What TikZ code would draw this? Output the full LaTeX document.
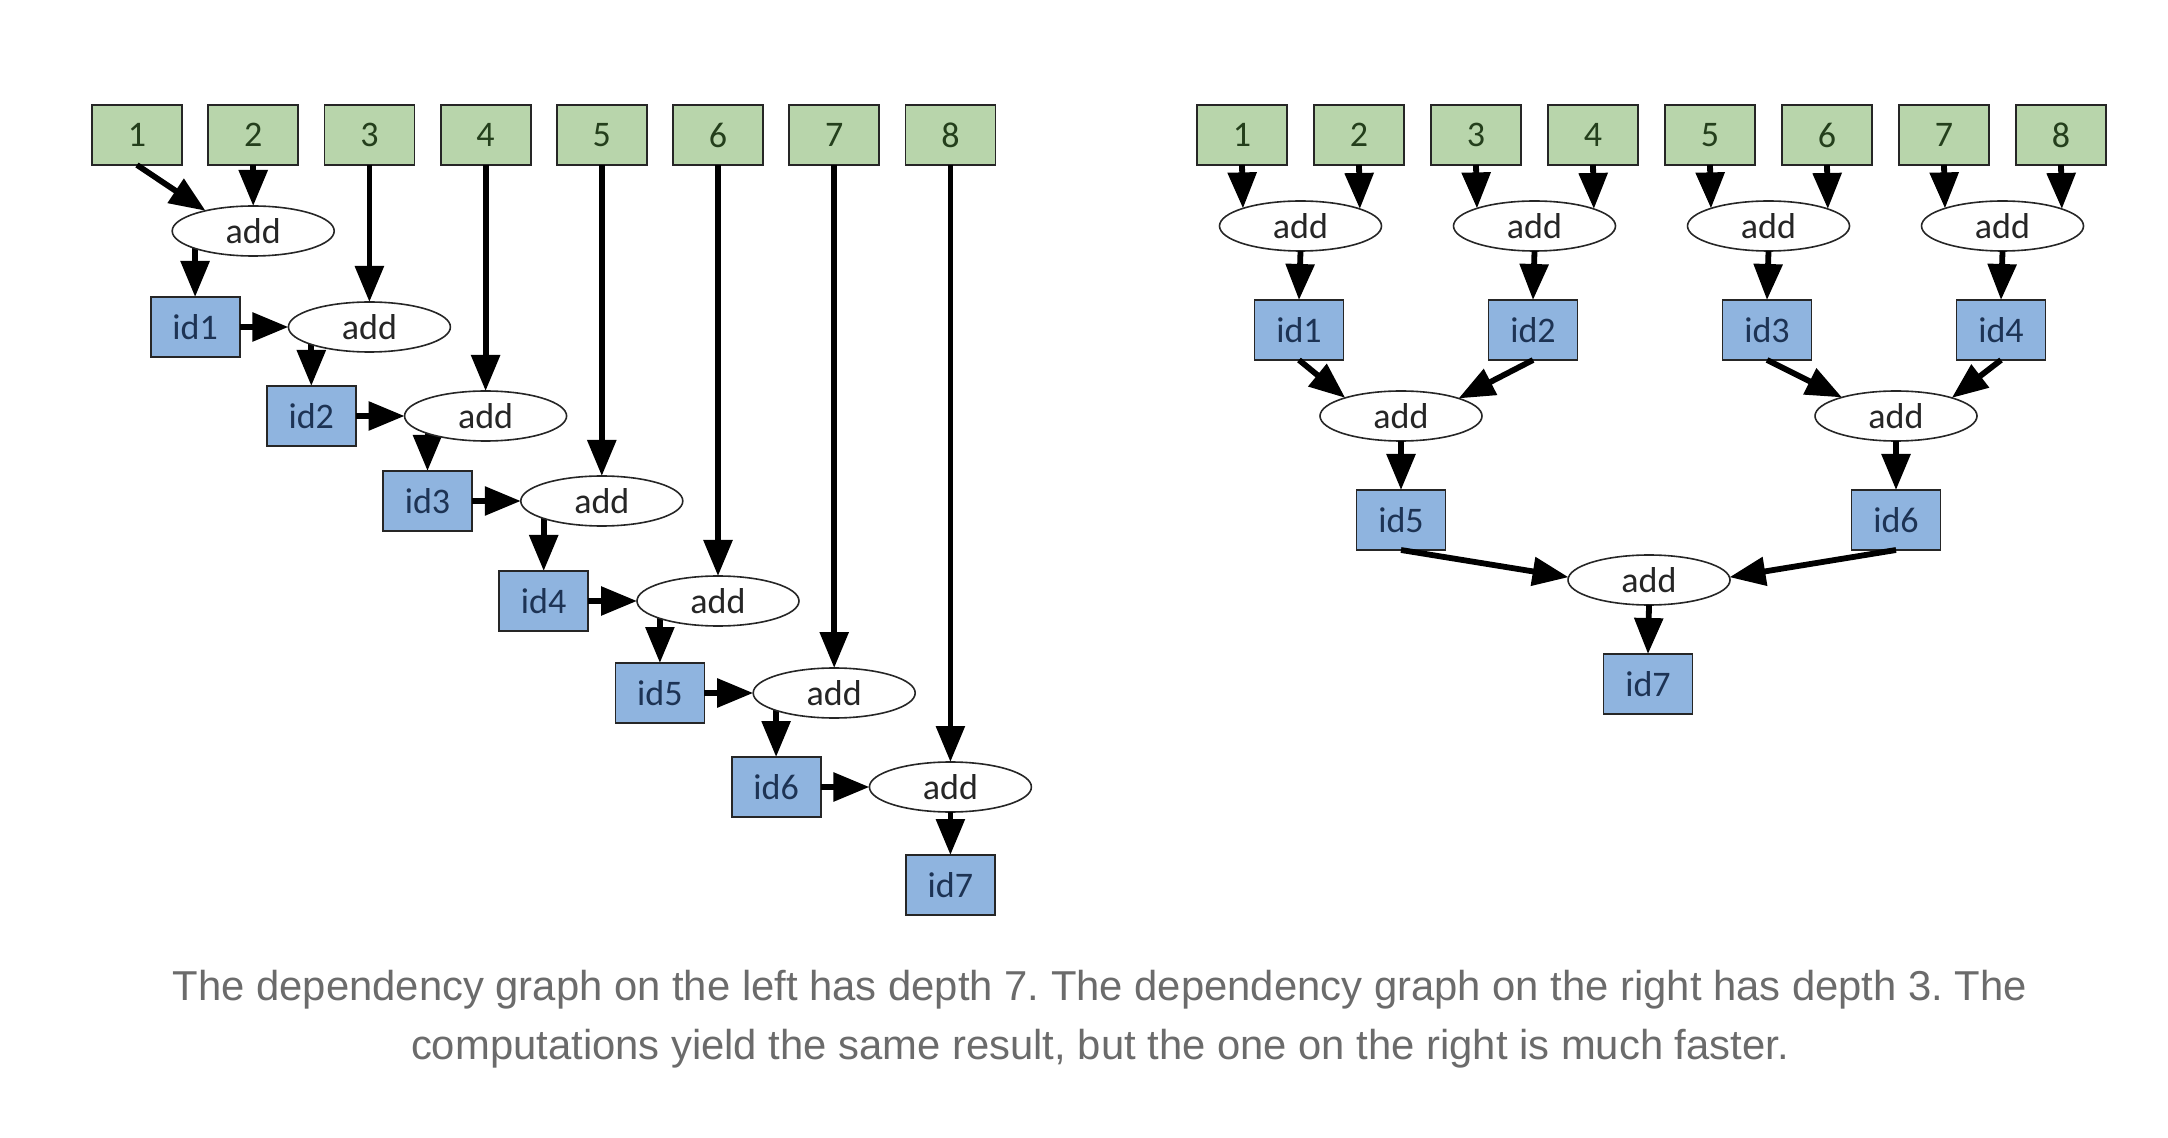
\documentclass[tikz,border=0pt]{standalone}
\usepackage{fontspec}
\usetikzlibrary{shapes.geometric,arrows.meta}
\newfontfamily\carlito{Carlito}
\newfontfamily\capfont{Liberation Sans}
\definecolor{ingreen}{HTML}{B8D5AB}
\definecolor{idblue}{HTML}{8FB4DF}
\definecolor{numtxt}{HTML}{243F1C}
\definecolor{idtxt}{HTML}{1D3354}
\definecolor{captxt}{HTML}{6B6B6B}
\pgfdeclarelayer{bg}
\pgfsetlayers{bg,main}
\tikzset{
  inbox/.style={rectangle,draw=black!85,line width=0.9pt,fill=ingreen,minimum width=45pt,minimum height=30pt,inner sep=0pt,outer sep=0pt,font=\carlito\fontsize{18}{21}\selectfont,text=numtxt},
  idbox/.style={rectangle,draw=black!85,line width=0.9pt,fill=idblue,minimum width=44.5pt,minimum height=30pt,inner sep=0pt,outer sep=0pt,font=\carlito\fontsize{18}{21}\selectfont,text=idtxt},
  addop/.style={ellipse,draw=black!85,line width=0.8pt,fill=white,minimum width=81pt,minimum height=25pt,inner sep=0pt,outer sep=0pt,font=\carlito\fontsize{18}{21}\selectfont,text=black!85},
  arr/.style={line width=2.9pt,draw=black,-{Triangle[length=18pt,width=14pt]}},
  caption/.style={font=\capfont\fontsize{20.9}{26}\selectfont,text=captxt,anchor=base,inner sep=0pt}
}
\begin{document}
\frenchspacing
\begin{tikzpicture}[x=0.5pt,y=-0.5pt]
\useasboundingbox (0,0) rectangle (2168,1138);
% ---------- left graph ----------
\foreach \k/\x in {1/137,2/253.2,3/369.4,4/485.6,5/601.8,6/718,7/834.2,8/950.4}
  \node[inbox] (L\k) at (\x,135) {\k};
\node[addop] (La1) at (253.2,231) {add};
\node[addop] (La2) at (369.4,327) {add};
\node[addop] (La3) at (485.6,416) {add};
\node[addop] (La4) at (601.8,501) {add};
\node[addop] (La5) at (718,601) {add};
\node[addop] (La6) at (834.2,693) {add};
\node[addop] (La7) at (950.4,787) {add};
\node[idbox] (Li1) at (195.1,327) {id1};
\node[idbox] (Li2) at (311.3,416) {id2};
\node[idbox] (Li3) at (427.5,501) {id3};
\node[idbox] (Li4) at (543.7,601) {id4};
\node[idbox] (Li5) at (659.9,693) {id5};
\node[idbox] (Li6) at (776.1,787) {id6};
\node[idbox] (Li7) at (950.4,885) {id7};
\draw[arr] (L1.south) -- (La1.157);
\draw[arr] (L2.south) -- (La1.north);
\foreach \k/\a in {3/2,4/3,5/4,6/5,7/6,8/7}
  \draw[arr] (L\k.south) -- (La\a.north);
\begin{pgfonlayer}{bg}
\foreach \k in {1,...,6}
  \draw[arr] (Li\k.north |- La\k.center) -- (Li\k.north);
\end{pgfonlayer}
\draw[arr] (La7.south) -- (Li7.north);
\foreach \k/\a in {1/2,2/3,3/4,4/5,5/6,6/7}
  \draw[arr] (Li\k.east) -- (La\a.west);
% ---------- right graph ----------
\foreach \k/\x in {1/1242,2/1359,3/1476,4/1593,5/1710,6/1827,7/1944,8/2061}
  \node[inbox] (R\k) at (\x,135) {\k};
\node[addop] (Ra1) at (1300.5,226) {add};
\node[addop] (Ra2) at (1534.5,226) {add};
\node[addop] (Ra3) at (1768.5,226) {add};
\node[addop] (Ra4) at (2002.5,226) {add};
\node[idbox] (Ri1) at (1299,330) {id1};
\node[idbox] (Ri2) at (1533,330) {id2};
\node[idbox] (Ri3) at (1767,330) {id3};
\node[idbox] (Ri4) at (2001,330) {id4};
\node[addop] (Ra5) at (1401,416) {add};
\node[addop] (Ra6) at (1896,416) {add};
\node[idbox] (Ri5) at (1401,520) {id5};
\node[idbox] (Ri6) at (1896,520) {id6};
\node[addop] (Ra7) at (1649,580) {add};
\node[idbox] (Ri7) at (1648,684) {id7};
\foreach \a/\l/\r in {1/1/2,2/3/4,3/5/6,4/7/8}{
  \draw[arr] (R\l.south) -- (Ra\a.163.5);
  \draw[arr] (R\r.south) -- (Ra\a.16.5);
}
\foreach \k in {1,...,4}
  \draw[arr] (Ra\k.south) -- (Ri\k.north);
\draw[arr] (Ri1.south) -- (Ra5.162);
\draw[arr] (Ri2.south) -- (Ra5.17);
\draw[arr] (Ri3.south) -- (Ra6.161);
\draw[arr] (Ri4.south) -- (Ra6.18);
\draw[arr] (Ra5.south) -- (Ri5.north);
\draw[arr] (Ra6.south) -- (Ri6.north);
\draw[arr] (Ri5.south) -- (Ra7.178);
\draw[arr] (Ri6.south) -- (Ra7.2);
\draw[arr] (Ra7.south) -- (Ri7.north);
% ---------- caption ----------
\node[caption] (cap1) at (1100,1000) {The dependency graph on the left has depth 7. The dependency graph on the right has depth 3. The};
\node[caption] (cap2) at (1100,1059) {computations yield the same result, but the one on the right is much faster.};
\end{tikzpicture}
\end{document}
